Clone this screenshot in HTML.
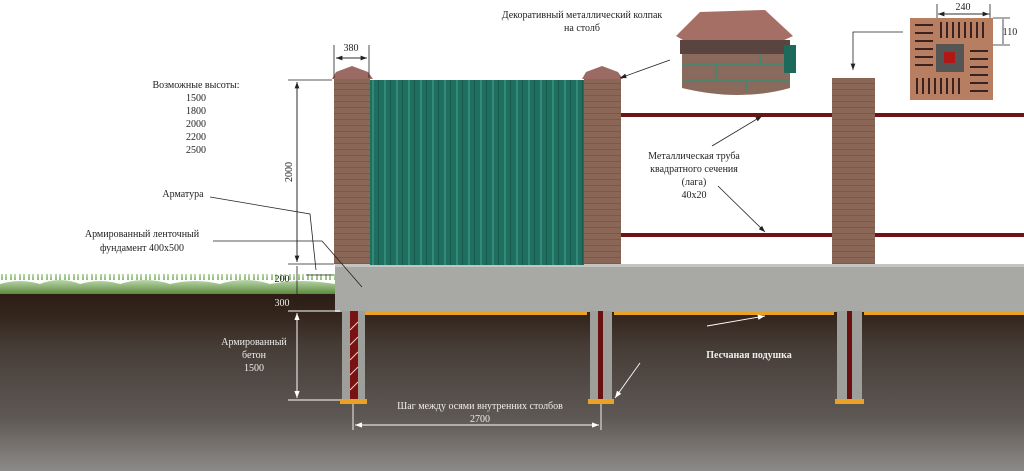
<!DOCTYPE html>
<html><head><meta charset="utf-8"><style>
html,body{margin:0;padding:0;background:#fff;}
svg{display:block;}
text{font-family:"Liberation Serif",serif;font-size:10px;}
</style></head><body>
<svg width="1024" height="471" viewBox="0 0 1024 471" xmlns="http://www.w3.org/2000/svg">
<defs>
<linearGradient id="soil" x1="0" y1="0" x2="0" y2="1">
<stop offset="0" stop-color="#2c1c14"/><stop offset="0.12" stop-color="#33241c"/>
<stop offset="0.3" stop-color="#463c36"/><stop offset="0.7" stop-color="#5e5854"/>
<stop offset="1" stop-color="#8c8a88"/></linearGradient>
<linearGradient id="grass" x1="0" y1="0" x2="0" y2="1">
<stop offset="0" stop-color="#b8d6a8"/><stop offset="1" stop-color="#5e8a3e"/></linearGradient>
<pattern id="stripes" width="12" height="10" patternUnits="userSpaceOnUse">
<rect width="12" height="10" fill="#1f6f60"/><rect x="0" width="2" height="10" fill="#348a79"/><rect x="6" width="1" height="10" fill="#175a4c"/></pattern>
<pattern id="brick" width="36" height="12" patternUnits="userSpaceOnUse">
<rect width="36" height="12" fill="#8a6656"/><rect y="5" width="36" height="1" fill="#7a584a"/><rect y="11" width="36" height="1" fill="#7a584a"/></pattern>
<pattern id="blades" width="9" height="20" patternUnits="userSpaceOnUse">
<path d="M1,20 L2,2 L3,20 M5,20 L6,6 L7,20" fill="#8fbf78"/></pattern>
<marker id="ah" markerWidth="8" markerHeight="6" refX="8" refY="3" orient="auto"><path d="M0,0L8,3L0,6z" fill="#222"/></marker>
<marker id="aw" markerWidth="8" markerHeight="6" refX="8" refY="3" orient="auto"><path d="M0,0L8,3L0,6z" fill="#fff"/></marker>
</defs>
<!-- soil -->
<rect x="0" y="293" width="1024" height="178" fill="url(#soil)"/>
<!-- grass -->
<rect x="0" y="274" width="335" height="20" fill="url(#blades)"/>
<path d="M0,294 L0,284 Q20,278 40,284 Q60,276 80,284 Q100,278 120,284 Q145,276 170,284 Q195,278 220,284 Q245,276 270,284 Q300,278 335,284 L335,294Z" fill="url(#grass)"/>
<!-- foundation -->
<rect x="335" y="264" width="689" height="48" fill="#a8a8a4"/>
<rect x="335" y="264" width="689" height="3" fill="#c4c4c0"/>
<!-- sand strips -->
<rect x="352" y="311" width="235" height="4" fill="#e9a224"/>
<rect x="614" y="311" width="220" height="4" fill="#e9a224"/>
<rect x="864" y="311" width="160" height="4" fill="#e9a224"/>
<!-- piles -->
<g>
<rect x="342" y="311" width="23" height="90" fill="#9e9e9a"/>
<rect x="350" y="311" width="8" height="90" fill="#7a1212"/>
<path d="M350,330l8,-8M350,345l8,-8M350,360l8,-8M350,375l8,-8M350,390l8,-8" stroke="#e8d0d0" stroke-width="1"/>
<rect x="340" y="399" width="27" height="5" fill="#e9a224"/>
<rect x="590" y="311" width="22" height="89" fill="#9e9e9a"/>
<rect x="598" y="311" width="5" height="89" fill="#6a1010"/>
<rect x="588" y="399" width="26" height="5" fill="#e9a224"/>
<rect x="837" y="311" width="25" height="89" fill="#9e9e9a"/>
<rect x="847" y="311" width="5" height="89" fill="#6a1010"/>
<rect x="835" y="399" width="29" height="5" fill="#e9a224"/>
</g>
<!-- fence panel -->
<rect x="370" y="80" width="214" height="185" fill="url(#stripes)"/>
<!-- rails -->
<rect x="621" y="113" width="211" height="4" fill="#6e1414"/>
<rect x="621" y="233" width="211" height="4" fill="#6e1414"/>
<rect x="875" y="113" width="149" height="4" fill="#6e1414"/>
<rect x="875" y="233" width="149" height="4" fill="#6e1414"/>
<!-- posts -->
<rect x="334" y="78" width="36" height="186" fill="url(#brick)"/>
<path d="M332,79 L336,72 L352,66 L368,72 L373,79Z" fill="#9b6a62"/>
<rect x="584" y="78" width="37" height="186" fill="url(#brick)"/>
<path d="M582,79 L586,72 L602,66 L618,72 L623,79Z" fill="#9b6a62"/>
<rect x="832" y="78" width="43" height="186" fill="url(#brick)"/>
<!-- cap inset -->
<path d="M682,46 L682,88 Q740,102 790,88 L790,46Z" fill="#8a6a5c"/>
<path d="M676,36 L700,12 L765,10 L793,36 L780,42 L690,44 Z" fill="#a56f66"/>
<rect x="680" y="40" width="110" height="14" fill="#5a4440"/>
<path d="M682,64 H790 M684,80 H790 M716,64 V80 M760,54 V64 M746,80 V92" stroke="#3a8a70" stroke-width="1.5"/>
<rect x="784" y="45" width="12" height="28" fill="#1d6a5d"/>
<!-- brick inset -->
<rect x="910" y="18" width="83" height="82" fill="#b87e62"/>
<rect x="936" y="44" width="28" height="28" fill="#555"/>
<rect x="944" y="52" width="11" height="11" fill="#b01818"/>
<g fill="#3a2220">
<rect x="915" y="24" width="18" height="2"/><rect x="915" y="32" width="18" height="2"/><rect x="915" y="40" width="18" height="2"/><rect x="915" y="48" width="18" height="2"/><rect x="915" y="56" width="18" height="2"/><rect x="915" y="64" width="18" height="2"/>
<rect x="940" y="22" width="2" height="16"/><rect x="946" y="22" width="2" height="16"/><rect x="952" y="22" width="2" height="16"/><rect x="958" y="22" width="2" height="16"/><rect x="964" y="22" width="2" height="16"/><rect x="970" y="22" width="2" height="16"/><rect x="976" y="22" width="2" height="16"/><rect x="982" y="22" width="2" height="16"/>
<rect x="970" y="50" width="18" height="2"/><rect x="970" y="58" width="18" height="2"/><rect x="970" y="66" width="18" height="2"/><rect x="970" y="74" width="18" height="2"/><rect x="970" y="82" width="18" height="2"/><rect x="970" y="90" width="18" height="2"/>
<rect x="916" y="78" width="2" height="16"/><rect x="922" y="78" width="2" height="16"/><rect x="928" y="78" width="2" height="16"/><rect x="934" y="78" width="2" height="16"/><rect x="940" y="78" width="2" height="16"/><rect x="946" y="78" width="2" height="16"/><rect x="952" y="78" width="2" height="16"/><rect x="958" y="78" width="2" height="16"/>
</g>
<g stroke="#222" stroke-width="0.8" fill="none">
<path d="M937,4 V18 M990,4 V18"/>
<path d="M938,14 H989" marker-end="url(#ah)"/>
<path d="M990,14 H938" marker-end="url(#ah)"/>
<path d="M993,18 H1010 M993,45 H1010 M1003,19 V44" />
<path d="M903,32 H853 V70" marker-end="url(#ah)"/>
<path d="M334,45 V78 M369,45 V78"/>
<path d="M336,58 H367" marker-end="url(#ah)"/><path d="M367,58 H336" marker-end="url(#ah)"/>
<path d="M288,80 H332 M288,264 H334"/>
<path d="M297,82 V262" marker-end="url(#ah)"/><path d="M297,262 V82" marker-end="url(#ah)"/>
<path d="M297,266 V310"/>
<path d="M306,275 H334 M306,297 H334"/>
<path d="M210,197 L310,214 L316,270"/>
<path d="M213,241 L322,241 L362,287"/>
<path d="M670,60 L620,78" marker-end="url(#ah)"/>
<path d="M712,146 L762,116" marker-end="url(#ah)"/>
<path d="M718,186 L765,232" marker-end="url(#ah)"/>
</g>
<g stroke="#fff" stroke-width="0.9" fill="none">
<path d="M288,311 H340 M288,400 H340"/>
<path d="M297,313 V398" marker-end="url(#aw)"/><path d="M297,398 V313" marker-end="url(#aw)"/>
<path d="M353,404 V430 M601,404 V430"/>
<path d="M355,425 H599" marker-end="url(#aw)"/><path d="M599,425 H355" marker-end="url(#aw)"/>
<path d="M707,326 L765,316" marker-end="url(#aw)"/>
<path d="M640,363 L615,398" marker-end="url(#aw)"/>
</g>
<g fill="#222" text-anchor="middle">
<text x="196" y="88">Возможные высоты:</text>
<text x="196" y="101">1500</text><text x="196" y="114">1800</text><text x="196" y="127">2000</text><text x="196" y="140">2200</text><text x="196" y="153">2500</text>
<text x="351" y="51">380</text>
<text x="296" y="180" transform="rotate(-90 290 178)">2000</text>
<text x="183" y="197">Арматура</text>
<text x="142" y="237">Армированный ленточный</text>
<text x="142" y="251">фундамент 400х500</text>
<text x="282" y="282">200</text>
<text x="582" y="18">Декоративный металлический колпак</text>
<text x="582" y="31">на столб</text>
<text x="694" y="159">Металлическая труба</text>
<text x="694" y="172">квадратного сечения</text>
<text x="694" y="185">(лага)</text>
<text x="694" y="198">40х20</text>
<text x="963" y="10">240</text>
<text x="1010" y="35">110</text>
</g>
<g fill="#eee" text-anchor="middle">
<text x="282" y="306">300</text>
<text x="254" y="345">Армированный</text>
<text x="254" y="358">бетон</text>
<text x="254" y="371">1500</text>
<text x="480" y="409">Шаг между осями внутренних столбов</text>
<text x="480" y="422">2700</text>
<text x="749" y="358" font-weight="bold">Песчаная подушка</text>
</g>
</svg>
</body></html>
